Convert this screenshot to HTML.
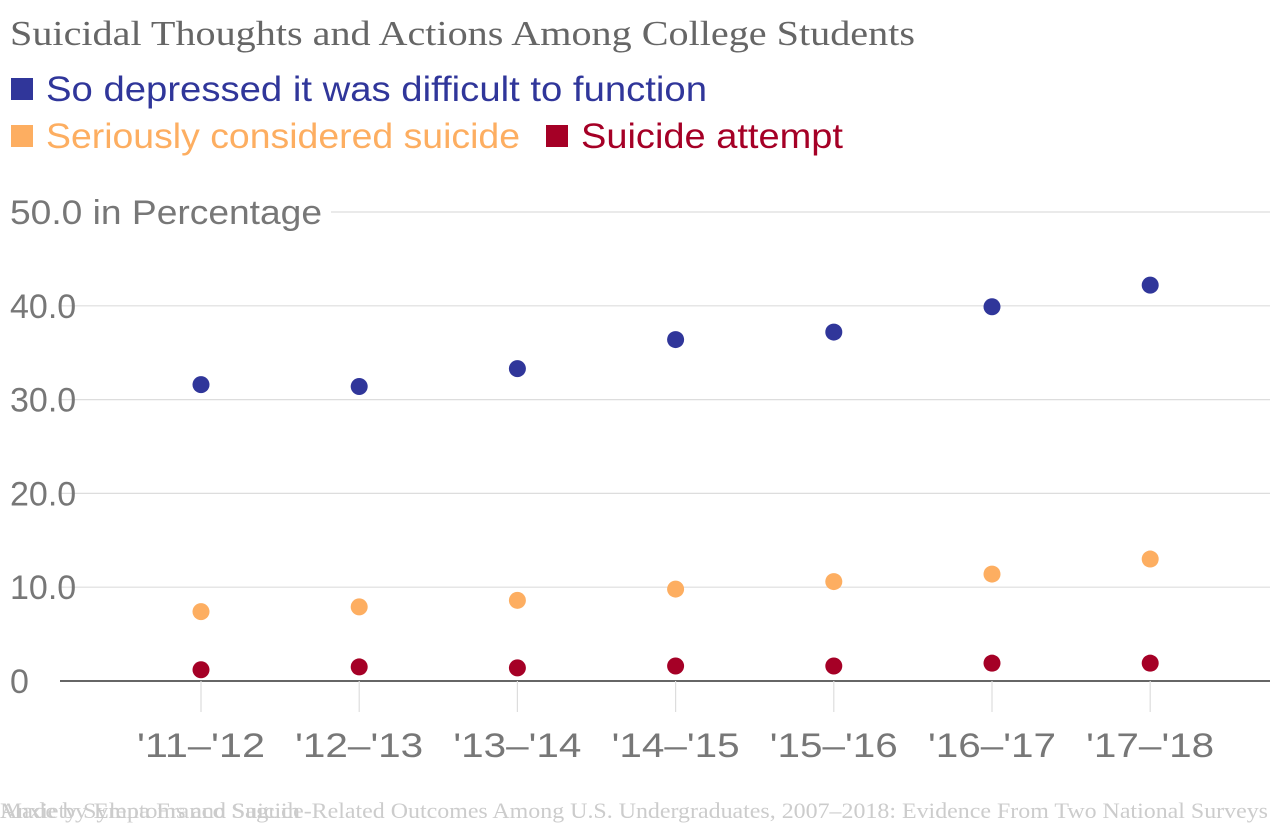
<!DOCTYPE html>
<html><head><meta charset="utf-8"><style>
body{margin:0;background:#fff;width:1280px;height:826px;overflow:hidden}
svg{display:block}
</style></head><body>
<svg id="c" width="1280" height="826" font-family="Liberation Sans, sans-serif">
<text x="10" y="45" font-family="Liberation Serif, serif" font-size="35" fill="#666" textLength="905" lengthAdjust="spacingAndGlyphs">Suicidal Thoughts and Actions Among College Students</text>
<g>
<rect x="11" y="78" width="22" height="22" fill="#30369a"/>
<text x="46" y="101" font-size="35" fill="#30369a" textLength="661" lengthAdjust="spacingAndGlyphs">So depressed it was difficult to function</text>
<rect x="11" y="125" width="22" height="22" fill="#fdae61"/>
<text x="46" y="148" font-size="35" fill="#fdae61" textLength="474" lengthAdjust="spacingAndGlyphs">Seriously considered suicide</text>
<rect x="546" y="125" width="22" height="22" fill="#a50026"/>
<text x="581" y="148" font-size="35" fill="#a50026" textLength="262" lengthAdjust="spacingAndGlyphs">Suicide attempt</text>
</g>
<g id="grid"></g><g id="marks"></g>
<text x="0" y="818" font-family="Liberation Serif, serif" font-size="22" fill="#ccc" textLength="1268" lengthAdjust="spacingAndGlyphs">Anxiety Symptoms and Suicide-Related Outcomes Among U.S. Undergraduates, 2007–2018: Evidence From Two National Surveys</text>
<text x="0" y="818" font-family="Liberation Serif, serif" font-size="22" fill="#ccc" textLength="300" lengthAdjust="spacingAndGlyphs">Made by Elena Franco Saguin</text>
</svg>
<script>
const categories=["'11–'12","'12–'13","'13–'14","'14–'15","'15–'16","'16–'17","'17–'18"];
const depressed=[31.6,31.4,33.3,36.4,37.2,39.9,42.2];
const considered=[7.4,7.9,8.6,9.8,10.6,11.4,13.0];
const attempt=[1.2,1.5,1.4,1.6,1.6,1.9,1.9];
const yTicks=[0,10,20,30,40,50];
const yTickLabels=["0","10.0","20.0","30.0","40.0","50.0 in Percentage"];
const NS="http://www.w3.org/2000/svg";
const y=v=>681-v*9.38;
const x=i=>201+i*158.2;
const grid=document.getElementById('grid'),marks=document.getElementById('marks');
function mk(tag,attrs,parent){const e=document.createElementNS(NS,tag);for(const k in attrs)e.setAttribute(k,attrs[k]);parent.appendChild(e);return e;}
yTicks.forEach((t,i)=>{
  const last=i===yTicks.length-1;
  const l=mk('line',{x1:last?331:60,x2:1270,y1:y(t),y2:y(t),stroke:t===0?'#333':'#ddd','stroke-width':t===0?1.5:1.2},grid);
  
  
  const attrs={x:10,y:y(t)+12,'font-size':34,fill:'#777'};
  if(last){attrs.textLength=312;attrs.lengthAdjust='spacingAndGlyphs';}
  const tx=mk('text',attrs,grid);
  tx.textContent=yTickLabels[i];
  
  
});
categories.forEach((c,i)=>{
  const l=mk('line',{x1:x(i),x2:x(i),y1:681,y2:712,stroke:'#ddd','stroke-width':1.2},grid);
  
  
  const tx=mk('text',{x:x(i)-64,y:757,'font-size':34,fill:'#777',textLength:128,lengthAdjust:'spacingAndGlyphs'},grid);
  tx.textContent=c;
  
  
});
[[depressed,'#30369a','depressed'],[considered,'#fdae61','considered'],[attempt,'#a50026','attempt']].forEach(([arr,col,nm])=>{
  arr.forEach((v,i)=>{
    const p=mk('circle',{cx:x(i),cy:y(v),r:8.5,fill:col},marks);
    
    
  });
});
</script>
</body></html>
